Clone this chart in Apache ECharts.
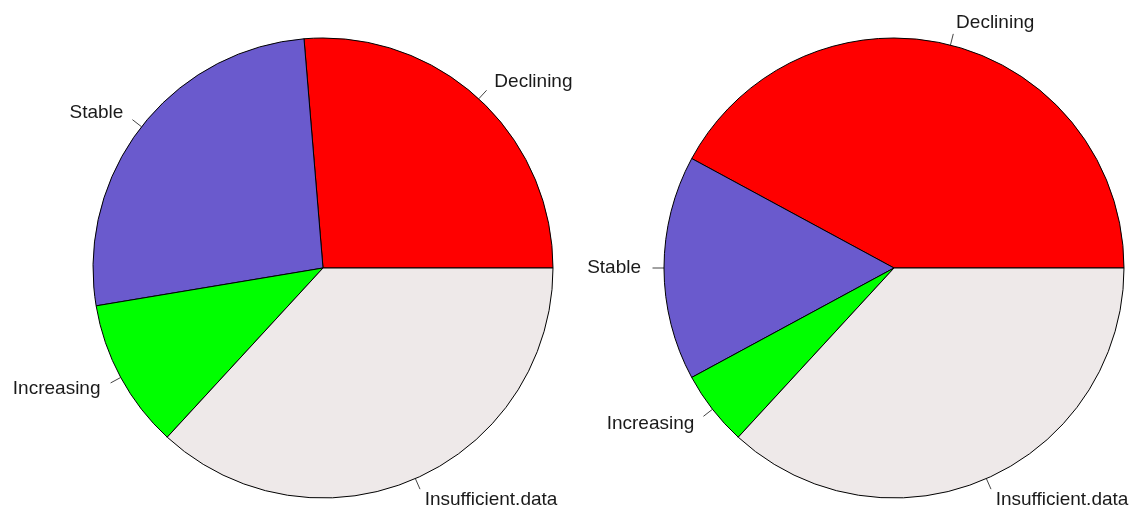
<!DOCTYPE html>
<html>
<head>
<meta charset="utf-8">
<script src="https://cdn.jsdelivr.net/npm/echarts@6/dist/echarts.min.js"></script>
<style>
html,body{margin:0;padding:0;background:#fff;}
#chart{width:1138px;height:513px;}
</style>
</head>
<body>
<div id="chart"></div>
<script>
// Data
const categories = ['Declining', 'Stable', 'Increasing', 'Insufficient.data'];
const leftValues = [5, 5, 2, 7];
const rightValues = [8, 3, 1, 7];
const sliceColors = ['#FF0000', '#6A5ACD', '#00FF00', '#EEE9E9'];

// Layout
const R = 230;
const centers = [[323, 268], [894, 268]];
const valueSets = [leftValues, rightValues];

function midAngles(values) {
  const total = values.reduce((a, b) => a + b, 0);
  let acc = 0;
  return values.map(v => {
    const mid = (acc + v / 2) / total * 2 * Math.PI;
    acc += v;
    return mid;
  });
}
const mids = valueSets.map(midAngles);

function layoutFor(s) {
  return function (params) {
    const i = params.dataIndex;
    const a = mids[s][i];
    const cx = centers[s][0], cy = centers[s][1];
    const c = Math.cos(a), sn = Math.sin(a);
    const p0 = [cx + R * c, cy - R * sn];
    const p1 = [cx + 1.05 * R * c, cy - 1.05 * R * sn];
    return {
      x: cx + 1.1 * R * c,
      y: cy - 1.1 * R * sn,
      align: c < 0 ? 'right' : 'left',
      verticalAlign: 'middle',
      labelLinePoints: [p0, p1, p1]
    };
  };
}

function makeSeries(values, idx) {
  return {
    type: 'pie',
    center: centers[idx],
    radius: [0, R],
    startAngle: 0,
    clockwise: false,
    avoidLabelOverlap: false,
    silent: true,
    animation: false,
    data: categories.map((c, i) => ({ name: c, value: values[i], itemStyle: { color: sliceColors[i] } })),
    itemStyle: { borderColor: '#000', borderWidth: 1 },
    label: {
      show: true,
      position: 'outside',
      formatter: '{b}',
      color: '#1a1a1a',
      fontFamily: 'Liberation Sans, Arial, sans-serif',
      fontSize: 19
    },
    labelLine: {
      show: true,
      length: R * 0.05,
      length2: 0,
      smooth: false,
      lineStyle: { color: '#444', width: 1 }
    },
    labelLayout: layoutFor(idx),
    emphasis: { disabled: true }
  };
}

const chart = echarts.init(document.getElementById('chart'), null, { renderer: 'canvas' });
chart.setOption({
  backgroundColor: '#ffffff',
  series: valueSets.map(makeSeries)
});
</script>
</body>
</html>
